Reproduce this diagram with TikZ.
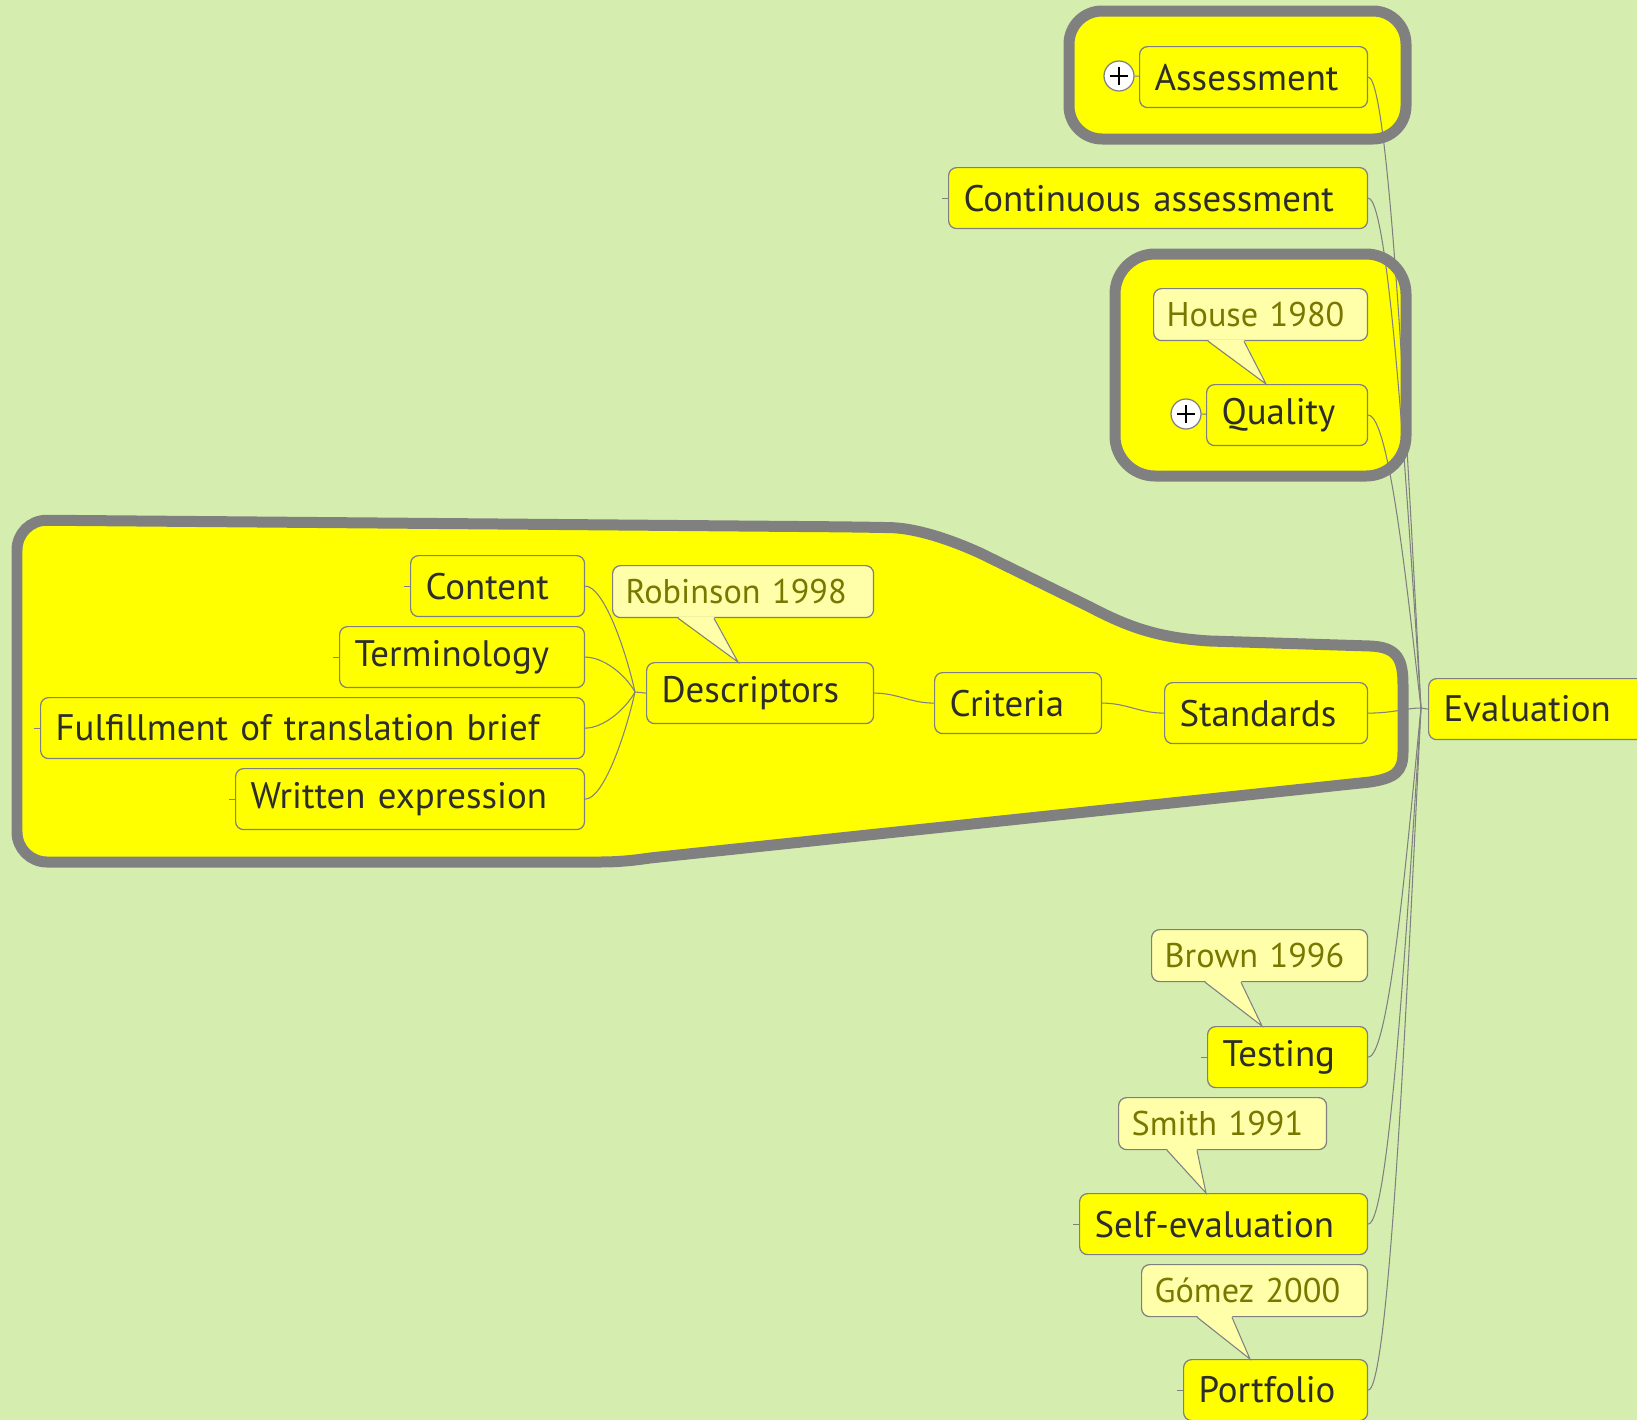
\documentclass[tikz,border=0pt]{standalone}
\usepackage{fontspec}
\setmainfont{PT Sans}
\usepackage{tikz}
\usetikzlibrary{positioning}

\definecolor{mapgreen}{RGB}{213,238,176}
\definecolor{topicyellow}{RGB}{255,255,0}
\definecolor{noteyellow}{RGB}{255,255,170}
\definecolor{linegray}{RGB}{128,128,128}
\definecolor{inkgray}{RGB}{45,45,45}
\definecolor{noteolive}{RGB}{120,120,0}

\tikzset{
  topic/.style={draw=linegray, line width=0.7pt, fill=topicyellow, rounded corners=0.16cm, anchor=north west,
    minimum height=1.22cm, inner xsep=0.3cm, inner ysep=0pt, align=left, text=inkgray, font=\fontsize{21}{25}\selectfont},
  note/.style={topic, fill=noteyellow, text=noteolive, minimum height=1.04cm, inner xsep=0.26cm,
    font=\fontsize{19.5}{23}\selectfont},
  link/.style={draw=linegray, line width=0.6pt},
  group/.style={draw=linegray, fill=topicyellow, line width=0.22cm},
  expander/.style={circle, draw=linegray, line width=0.7pt, fill=white, minimum size=0.6cm, inner sep=0pt,
    path picture={\draw[black, line width=0.7pt]
      ([xshift=-0.18cm]path picture bounding box.center) -- ([xshift=0.18cm]path picture bounding box.center)
      ([yshift=-0.18cm]path picture bounding box.center) -- ([yshift=0.18cm]path picture bounding box.center);}}
}

\begin{document}
\begin{tikzpicture}[x=0.02cm, y=-0.02cm]
\useasboundingbox (0,0) rectangle (1637,1420);
\fill[mapgreen] (0,0) rectangle (1637,1420);

% Boundaries
\path[group, rounded corners=0.66cm] (1069,11) rectangle (1406,139);
\path[group, rounded corners=0.8cm] (1115,254) rectangle (1406,476);
\path[group] (17,700) [rounded corners=0.6cm] -- (17,520) -- (860,527) [sharp corners]
  .. controls (910,528) and (940,535) .. (980,553) -- (1090,607)
  .. controls (1130,628) and (1160,638) .. (1210,641) -- (1370,646)
  .. controls (1398,647) and (1403,660) .. (1403,685) -- (1403,752)
  .. controls (1403,772) and (1395,778) .. (1370,782) -- (650,858)
  .. controls (630,861) and (615,862) .. (600,862) [rounded corners=0.6cm] -- (17,862) -- cycle;

% Topics
\node[topic, text width=3.96cm] (assess) at (1139,46) {Assessment};
\node[topic, text width=7.78cm] (contin) at (948,167) {Continuous assessment};
\node[note, text width=3.76cm] (house) at (1153,288) {House~1980};
\node[topic, text width=2.62cm] (quality) at (1206,384) {Quality};
\node[topic, text width=2.88cm] (content) at (410,555) {Content};
\node[note, text width=4.70cm] (robinson) at (612,565) {Robinson~1998};
\node[topic, text width=4.30cm] (termin) at (339,626) {Terminology};
\node[topic, text width=10.28cm] (fulfil) at (40,697) {Fulfillment of translation brief};
\node[topic, text width=6.38cm] (written) at (235,768) {Written expression};
\node[topic, text width=3.94cm] (descr) at (646,662) {Descriptors};
\node[topic, text width=2.74cm] (criteria) at (934,672) {Criteria};
\node[topic, text width=3.46cm] (standards) at (1164,682) {Standards};
\node[topic, text width=4.20cm] (eval) at (1428,678) {Evaluation};
\node[note, text width=3.80cm] (brown) at (1151,929) {Brown~1996};
\node[topic, text width=2.60cm] (testing) at (1207,1026) {Testing};
\node[note, text width=3.64cm] (smith) at (1118,1097) {Smith~1991};
\node[topic, text width=5.16cm] (selfev) at (1079,1193) {Self-evaluation};
\node[note, text width=4.00cm] (gomez) at (1141,1264) {Gómez~2000};
\node[topic, text width=3.08cm] (portfolio) at (1183,1359) {Portfolio};

\node[expander] (assessplus) at (1119,76) {};
\node[expander] (qualplus) at (1186,414) {};

\coordinate (hub) at (1421,708);
\coordinate (subhub) at (635,692);

% Connectors
\draw[link] (assessplus) -- (assess);
\draw[link] (qualplus) -- (quality);
\foreach \n/\k in {assess/-220, contin/-180, quality/-100, testing/120, selfev/180, portfolio/240}
  \draw[link] (\n.east) .. controls +(22,0) and +(-12,\k) .. (hub);
\draw[link] (standards.east) .. controls +(25,0) and +(-15,0) .. (hub);
\draw[link] (hub) -- (eval.west);
\foreach \n/\k in {content/-45, termin/-18, fulfil/18, written/45}
  \draw[link] (\n.east) .. controls +(18,0) and +(-10,\k) .. (subhub);
\draw[link] (subhub) -- (descr.west);
\draw[link] (descr.east) to[out=0, in=180] (criteria.west);
\draw[link] (criteria.east) to[out=0, in=180] (standards.west);
\foreach \n in {contin,content,termin,fulfil,written,testing,selfev,portfolio}
  \draw[link] (\n.west) -- ++(-6,0);

% Callout pointers
\foreach \src/\dst/\a/\b/\s in {house/quality/1.10/1.82/1.20, robinson/descr/1.32/2.04/1.84,
    brown/testing/1.08/1.80/1.10, smith/selfev/0.98/1.58/2.54, gomez/portfolio/1.12/1.82/1.34}
{
  \fill[noteyellow] ([xshift=\a cm, yshift=0.8pt]\src.south west) -- ([xshift=\s cm]\dst.north west)
    -- ([xshift=\b cm, yshift=0.8pt]\src.south west) -- cycle;
  \draw[link] ([xshift=\a cm]\src.south west) -- ([xshift=\s cm]\dst.north west) -- ([xshift=\b cm]\src.south west);
}
\end{tikzpicture}
\end{document}
